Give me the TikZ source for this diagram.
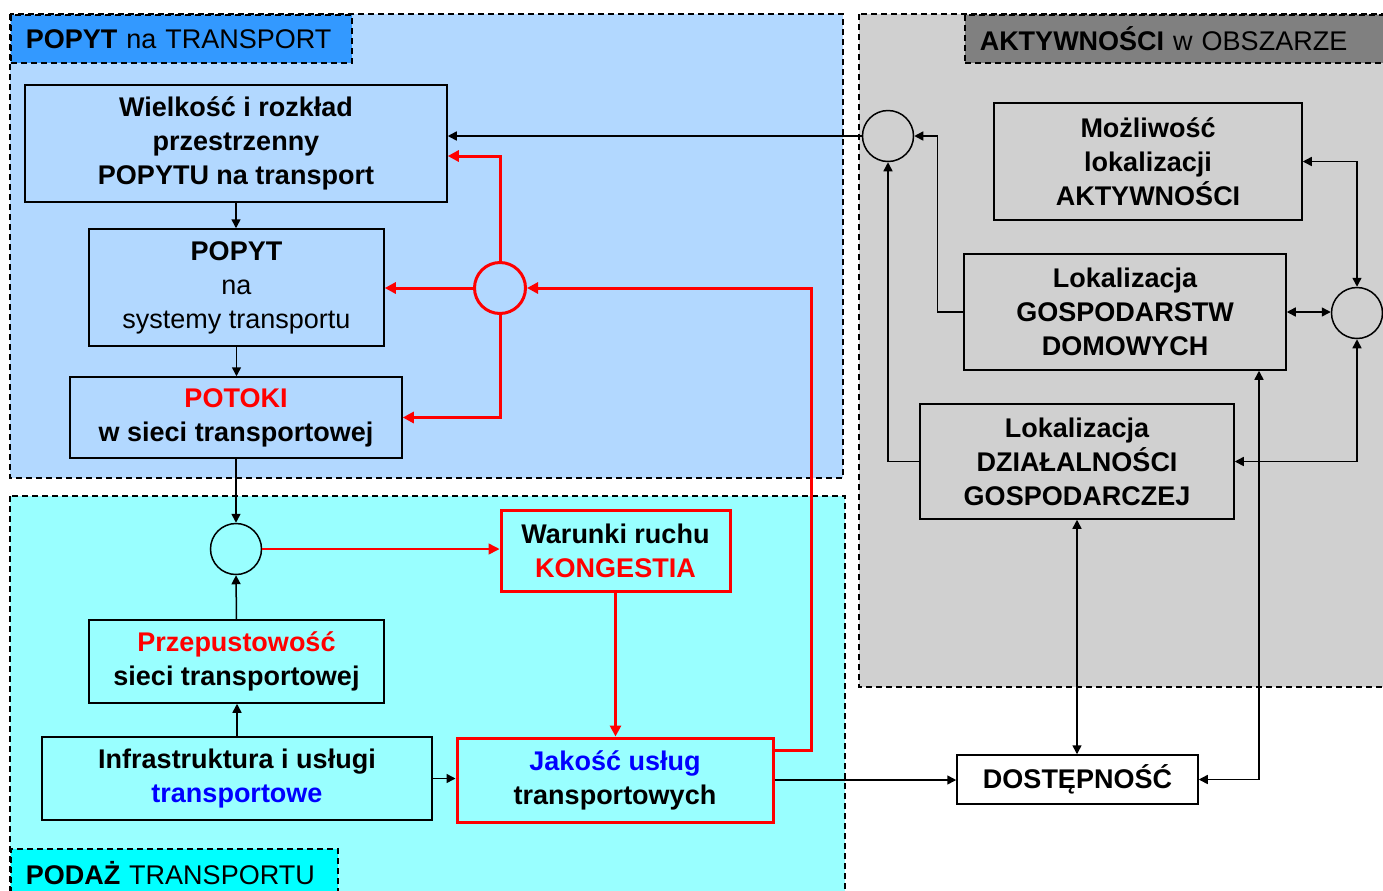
\documentclass[tikz,border=0pt]{standalone}
\usepackage{fontspec}
\setmainfont{Liberation Sans}
\usetikzlibrary{arrows.meta}
\definecolor{demandbg}{RGB}{178,216,255}
\definecolor{demandtab}{RGB}{51,153,255}
\definecolor{supplybg}{RGB}{153,255,255}
\definecolor{supplytab}{RGB}{0,255,255}
\definecolor{areabg}{RGB}{208,208,208}
\definecolor{areatab}{RGB}{128,128,128}
\definecolor{flowred}{RGB}{255,0,0}
\definecolor{qualblue}{RGB}{0,0,255}
\newcommand{\diagfont}{\fontsize{13.5pt}{17pt}\selectfont}

\begin{document}
\begin{tikzpicture}[x=0.5pt, y=-0.5pt,
    box/.style={draw, line width=0.75pt, align=center, inner sep=0pt, font={\diagfont\bfseries}},
    redbox/.style={box, draw=flowred, line width=1.5pt},
    sumnode/.style={circle, draw, line width=0.75pt, inner sep=0pt, minimum size=25.5pt},
    region/.style={draw, dash pattern=on 3pt off 2pt, line width=0.75pt},
    tab/.style={region, anchor=north west, inner xsep=7.5pt, inner ysep=0pt,
      minimum height=24pt, align=left, font=\diagfont},
    arr/.style={line width=0.75pt, -{Triangle[length=4.5pt,width=4.5pt]}},
    biarr/.style={line width=0.75pt, {Triangle[length=4.5pt,width=4.5pt]}-{Triangle[length=4.5pt,width=4.5pt]}},
    redarr/.style={color=flowred, line width=1.5pt, -{Triangle[length=5.5pt,width=5.5pt]}}]
  \useasboundingbox (0,0) rectangle (1383,890);

  % regions
  \draw[region, fill=demandbg] (10,14) rectangle (843,478);
  \draw[region, fill=supplybg] (10,496) rectangle (845,900);
  \draw[region, fill=areabg] (859,14) rectangle (1400,687);
  \node[tab, fill=demandtab, text width=155.5pt] (demandtab) at (10,14) {\textbf{POPYT} na TRANSPORT};
  \node[tab, fill=areatab, text width=198pt] (areatab) at (964,14) {\textbf{AKTYWNOŚCI} w OBSZARZE};
  \node[tab, fill=supplytab, text width=148.5pt] (supplytab) at (10,848) {\textbf{PODAŻ} TRANSPORTU};

  % demand
  \node[box, minimum width=211pt, minimum height=58.5pt] (wielkosc) at (236,143.5)
    {Wielkość i rozkład\\przestrzenny\\POPYTU na transport};
  \node[box, minimum width=147.5pt, minimum height=58.5pt] (popyt) at (236.5,287.5)
    {POPYT\\\mdseries na\\\mdseries systemy transportu};
  \node[box, minimum width=166pt, minimum height=40.5pt] (potoki) at (236,417.5)
    {\textcolor{flowred}{POTOKI}\\w sieci transportowej};
  \node[sumnode, draw=flowred, line width=1.5pt] (sum1) at (500,288) {};

  % supply
  \node[sumnode] (sum2) at (236,549) {};
  \node[redbox, minimum width=114.5pt, minimum height=40.5pt] (warunki) at (615.5,550.5)
    {Warunki ruchu\\\textcolor{flowred}{KONGESTIA}};
  \node[box, minimum width=147.5pt, minimum height=41.5pt] (przep) at (236.5,661.5)
    {\textcolor{flowred}{Przepustowość}\\sieci transportowej};
  \node[box, minimum width=195pt, minimum height=41.5pt] (infra) at (237,778.5)
    {Infrastruktura i usługi\\\textcolor{qualblue}{transportowe}};
  \node[redbox, minimum width=158pt, minimum height=42pt] (jakosc) at (615,780)
    {\textcolor{qualblue}{Jakość usług}\\transportowych};
  \node[box, fill=white, minimum width=120.5pt, minimum height=24.5pt] (dostep) at (1077.5,779.5)
    {DOSTĘPNOŚĆ};

  % activities
  \node[sumnode] (sumA) at (888,136) {};
  \node[box, minimum width=154pt, minimum height=58.5pt] (mozliwosc) at (1148,161.5)
    {Możliwość\\lokalizacji\\AKTYWNOŚCI};
  \node[box, minimum width=161pt, minimum height=58pt] (gosp) at (1125,312)
    {Lokalizacja\\GOSPODARSTW\\DOMOWYCH};
  \node[sumnode] (sumB) at (1357,313) {};
  \node[box, minimum width=157pt, minimum height=57.5pt] (dzial) at (1077,461.5)
    {Lokalizacja\\DZIAŁALNOŚCI\\GOSPODARCZEJ};

  % connectors
  \draw[arr] (sumA.west) -- (sumA.west -| wielkosc.east);
  \draw[arr] (wielkosc.south) -- (wielkosc.south |- popyt.north);
  \draw[arr] (popyt.south) -- (popyt.south |- potoki.north);
  \draw[arr] (potoki.south) -- (sum2.north);
  \draw[redarr] (sum1.north) |- ([yshift=-6.25pt]wielkosc.east);
  \draw[redarr] (sum1.west) -- (sum1.west -| popyt.east);
  \draw[redarr] (sum1.south) |- (potoki.east);

  \draw[arr] (przep.north) -- (sum2.south);
  \draw[arr] (infra.north) -- (infra.north |- przep.south);
  \draw[arr] (infra.east) -- (infra.east -| jakosc.west);
  \draw[redarr, line width=0.75pt] (sum2.east) -- (sum2.east -| warunki.west);
  \draw[redarr] (warunki.south) -- (warunki.south |- jakosc.north);
  \draw[redarr] ([yshift=15pt]jakosc.east) -- ++(37,0) |- (sum1.east);
  \draw[arr] (jakosc.east) -- (jakosc.east -| dostep.west);

  \draw[biarr] (dzial.south) -- (dzial.south |- dostep.north);
  \draw[biarr] ([xshift=67pt]gosp.south) |- (dostep.east);
  \draw[arr] (gosp.west) -- ++(-26,0) |- (sumA.east);
  \draw[arr] (dzial.west) -| (sumA.south);
  \draw[biarr] (gosp.east) -- (gosp.east -| sumB.west);
  \draw[biarr] (mozliwosc.east) -| (sumB.north);
  \draw[biarr] (dzial.east) -| (sumB.south);
\end{tikzpicture}
\end{document}
